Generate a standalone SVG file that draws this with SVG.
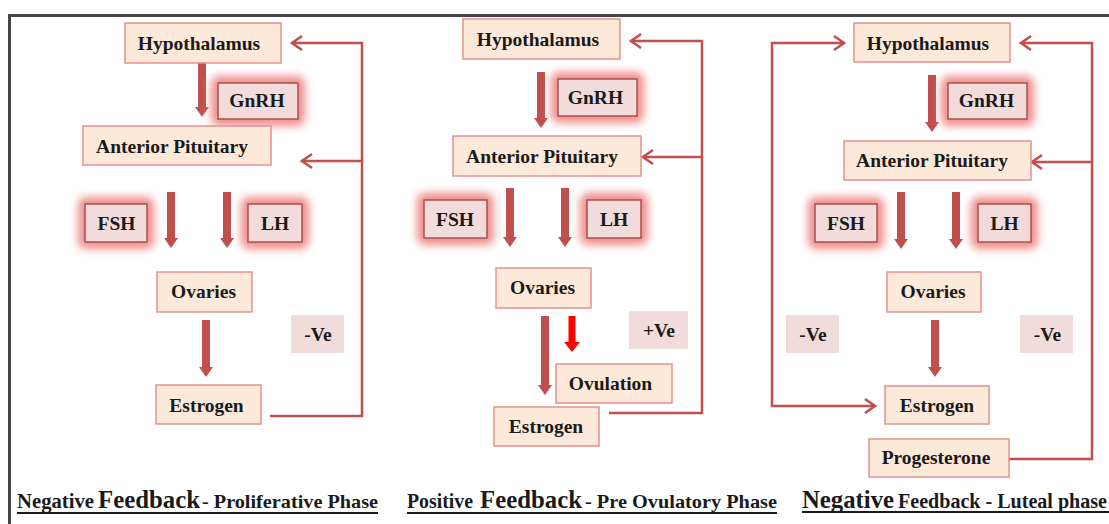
<svg xmlns="http://www.w3.org/2000/svg" width="1109" height="524" viewBox="0 0 1109 524">
<style>
.box{fill:#fde9d9;stroke:#e5908c;stroke-width:1.5}
.hbox{fill:#f2dcdb;stroke:#a8504d;stroke-width:1.5}
.glow{fill:#ee8d8a;filter:url(#blur)}
.sign{fill:#f2dcdb}
.lbl{font-family:"Liberation Serif","Times New Roman",serif;font-weight:bold;font-size:19.5px;fill:#1a1a1a;text-anchor:middle}
.cap{font-family:"Liberation Serif","Times New Roman",serif;font-weight:bold;fill:#1a1a1a}
.thick{fill:#c0504d}
.red{fill:#ff0000}
.conn{fill:none;stroke:#c0504d;stroke-width:2.5}
.ul{stroke:#1a1a1a;stroke-width:2}
</style>
<defs>
<filter id="blur" x="-40%" y="-40%" width="180%" height="180%"><feGaussianBlur stdDeviation="4.5"/></filter>
<marker id="open" viewBox="-12 -9 14 18" refX="0" refY="0" markerWidth="14" markerHeight="18" markerUnits="userSpaceOnUse" orient="auto-start-reverse">
<path d="M-10,-7 L0,0 L-10,7" fill="none" stroke="#c0504d" stroke-width="2.5"/>
</marker>
</defs>
<rect width="1109" height="524" fill="#ffffff"/>
<path d="M9.5,524 V15.5 H1109" fill="none" stroke="#464646" stroke-width="3"/>

<g id="connectors">
<path class="conn" d="M270,416 H362 V43 H292" marker-end="url(#open)"/>
<path class="conn" d="M362,161 H302" marker-end="url(#open)"/>
<path class="conn" d="M609,413 H702 V41 H631" marker-end="url(#open)"/>
<path class="conn" d="M702,157 H643" marker-end="url(#open)"/>
<path class="conn" d="M1000,459 H1092 V43 H1021" marker-end="url(#open)"/>
<path class="conn" d="M1092,162 H1032" marker-end="url(#open)"/>
<path class="conn" d="M844,43 H772 V406 H875" marker-start="url(#open)" marker-end="url(#open)"/>
<path class="thick" d="M198,61 H206 V107 H209 L202,117 L195,107 H198 Z"/>
<path class="thick" d="M167,192 H175 V238 H178 L171,248 L164,238 H167 Z"/>
<path class="thick" d="M223,192 H231 V238 H234 L227,248 L220,238 H223 Z"/>
<path class="thick" d="M202,320 H210 V367 H213 L206,377 L199,367 H202 Z"/>
<path class="thick" d="M537,72 H545 V118 H548 L541,128 L534,118 H537 Z"/>
<path class="thick" d="M506,188 H514 V237 H517 L510,247 L503,237 H506 Z"/>
<path class="thick" d="M561,188 H569 V237 H572 L565,247 L558,237 H561 Z"/>
<path class="thick" d="M541,316 H549 V385 H552 L545,395 L538,385 H541 Z"/>
<path class="red" d="M568.5,316 H575.5 V342 H580 L572,352 L564,342 H568.5 Z"/>
<path class="thick" d="M928,75 H936 V122 H939 L932,132 L925,122 H928 Z"/>
<path class="thick" d="M897,192 H905 V239 H908 L901,249 L894,239 H897 Z"/>
<path class="thick" d="M952,192 H960 V239 H963 L956,249 L949,239 H952 Z"/>
<path class="thick" d="M931,320 H939 V367 H942 L935,377 L928,367 H931 Z"/>
</g>

<g id="p1-hypothalamus"><rect class="box" x="125" y="23" width="156" height="40"/><text class="lbl" x="199" y="50">Hypothalamus</text></g>
<g id="p1-gnrh"><rect class="glow" x="211" y="76" width="94" height="50" rx="8"/><rect class="hbox" x="218" y="83" width="80" height="36"/><text class="lbl" x="257" y="107">GnRH</text></g>
<g id="p1-pituitary"><rect class="box" x="83" y="126" width="188" height="39"/><text class="lbl" x="172" y="153">Anterior Pituitary</text></g>
<g id="p1-fsh"><rect class="glow" x="78" y="197" width="76" height="52" rx="8"/><rect class="hbox" x="85" y="204" width="62" height="38"/><text class="lbl" x="116.5" y="230">FSH</text></g>
<g id="p1-lh"><rect class="glow" x="241" y="197" width="68" height="52" rx="8"/><rect class="hbox" x="248" y="204" width="54" height="38"/><text class="lbl" x="275" y="230">LH</text></g>
<g id="p1-ovaries"><rect class="box" x="157" y="272" width="95" height="40"/><text class="lbl" x="203.5" y="298">Ovaries</text></g>
<g id="p1-neg"><rect class="sign" x="291" y="315" width="53" height="38"/><text class="lbl" x="318" y="341">-Ve</text></g>
<g id="p1-estrogen"><rect class="box" x="156" y="385" width="105" height="39"/><text class="lbl" x="206.5" y="412">Estrogen</text></g>

<g id="p2-hypothalamus"><rect class="box" x="463" y="19" width="157" height="40"/><text class="lbl" x="538" y="46">Hypothalamus</text></g>
<g id="p2-gnrh"><rect class="glow" x="551" y="72" width="93" height="51" rx="8"/><rect class="hbox" x="558" y="79" width="79" height="37"/><text class="lbl" x="595.5" y="104">GnRH</text></g>
<g id="p2-pituitary"><rect class="box" x="453" y="136" width="188" height="40"/><text class="lbl" x="542" y="163">Anterior Pituitary</text></g>
<g id="p2-fsh"><rect class="glow" x="417" y="193" width="77" height="52" rx="8"/><rect class="hbox" x="424" y="200" width="63" height="38"/><text class="lbl" x="455" y="226">FSH</text></g>
<g id="p2-lh"><rect class="glow" x="580" y="193" width="68" height="52" rx="8"/><rect class="hbox" x="587" y="200" width="54" height="38"/><text class="lbl" x="614" y="226">LH</text></g>
<g id="p2-ovaries"><rect class="box" x="496" y="268" width="95" height="40"/><text class="lbl" x="542.5" y="294">Ovaries</text></g>
<g id="p2-pos"><rect class="sign" x="629" y="311" width="59" height="38"/><text class="lbl" x="659" y="337">+Ve</text></g>
<g id="p2-ovulation"><rect class="box" x="556" y="364" width="116" height="39"/><text class="lbl" x="610.5" y="390">Ovulation</text></g>
<g id="p2-estrogen"><rect class="box" x="494" y="407" width="105" height="39"/><text class="lbl" x="546" y="433">Estrogen</text></g>

<g id="p3-hypothalamus"><rect class="box" x="854" y="23" width="156" height="39"/><text class="lbl" x="928" y="50">Hypothalamus</text></g>
<g id="p3-gnrh"><rect class="glow" x="941" y="76" width="93" height="50" rx="8"/><rect class="hbox" x="948" y="83" width="79" height="36"/><text class="lbl" x="986.5" y="107">GnRH</text></g>
<g id="p3-pituitary"><rect class="box" x="844" y="141" width="187" height="39"/><text class="lbl" x="932" y="167">Anterior Pituitary</text></g>
<g id="p3-fsh"><rect class="glow" x="808" y="197" width="76" height="52" rx="8"/><rect class="hbox" x="815" y="204" width="62" height="38"/><text class="lbl" x="846" y="230">FSH</text></g>
<g id="p3-lh"><rect class="glow" x="971" y="197" width="67" height="52" rx="8"/><rect class="hbox" x="978" y="204" width="53" height="38"/><text class="lbl" x="1004.5" y="230">LH</text></g>
<g id="p3-ovaries"><rect class="box" x="887" y="272" width="94" height="40"/><text class="lbl" x="933" y="298">Ovaries</text></g>
<g id="p3-neg-left"><rect class="sign" x="786" y="315" width="53" height="38"/><text class="lbl" x="813" y="341">-Ve</text></g>
<g id="p3-neg-right"><rect class="sign" x="1020" y="315" width="53" height="38"/><text class="lbl" x="1047.5" y="341">-Ve</text></g>
<g id="p3-estrogen"><rect class="box" x="885" y="386" width="104" height="38"/><text class="lbl" x="937" y="412">Estrogen</text></g>
<g id="p3-progesterone"><rect class="box" x="869" y="439" width="140" height="38"/><text class="lbl" x="936" y="464">Progesterone</text></g>

<g id="caption1">
<text class="cap" x="17" y="508" font-size="20" textLength="77" lengthAdjust="spacingAndGlyphs">Negative</text>
<text class="cap" x="98" y="508" font-size="25" textLength="102" lengthAdjust="spacingAndGlyphs">Feedback</text>
<text class="cap" x="202" y="508" font-size="19" textLength="176" lengthAdjust="spacingAndGlyphs">- Proliferative Phase</text>
<line class="ul" x1="17" y1="513" x2="378" y2="513"/>
</g>
<g id="caption2">
<text class="cap" x="407" y="508" font-size="20" textLength="66" lengthAdjust="spacingAndGlyphs">Positive</text>
<text class="cap" x="480" y="508" font-size="25" textLength="102" lengthAdjust="spacingAndGlyphs">Feedback</text>
<text class="cap" x="585" y="508" font-size="19" textLength="192" lengthAdjust="spacingAndGlyphs">- Pre Ovulatory  Phase</text>
<line class="ul" x1="407" y1="513" x2="777" y2="513"/>
</g>
<g id="caption3">
<text class="cap" x="802" y="508" font-size="25" textLength="92" lengthAdjust="spacingAndGlyphs">Negative</text>
<text class="cap" x="898" y="508" font-size="20" textLength="209" lengthAdjust="spacingAndGlyphs">Feedback - Luteal phase</text>
<line class="ul" x1="802" y1="512" x2="1109" y2="512"/>
</g>
</svg>
